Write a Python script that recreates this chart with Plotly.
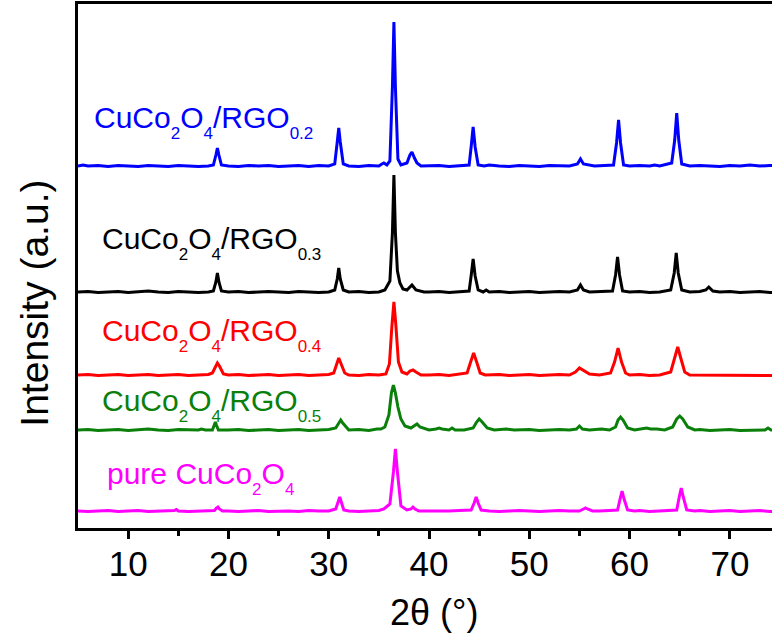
import plotly.graph_objects as go

# ---- data (2theta in degrees, intensity in a.u. above each pattern's baseline) ----
blue_x = [5.0, 5.5, 6, 7, 8, 9, 10, 11, 12, 13, 14, 15, 16, 17, 18, 18.5, 18.75, 18.9, 19.05, 19.3,
          20, 21, 22, 23, 24, 25, 26, 27, 28, 29, 30, 30.6, 30.85, 31.0, 31.15, 31.45, 32, 33, 34, 35,
          35.3, 35.5, 35.8, 36.1, 36.35, 36.5, 36.65, 36.9, 37.2, 37.8, 38.1, 38.3, 38.55, 38.8, 39.2,
          40, 41, 42, 43, 44, 44.2, 44.4, 44.6, 44.9, 45.5, 46, 47, 48, 49, 50, 51, 52, 53, 54, 54.8,
          55.1, 55.4, 55.8, 56.5, 57.5, 58.4, 58.7, 58.9, 59.1, 59.4, 60, 61, 62, 62.5, 63, 63.5, 64.2,
          64.5, 64.7, 64.9, 65.2, 66, 67, 68, 69, 70, 71, 72, 73, 74, 75]
blue_y = [1, 2, 1, 1.5, 0.5, 1.5, 1, 0.5, 1.5, 1, 0.5, 1.5, 1, 0.5, 1, 2, 12, 19, 12, 2,
          1, 0.5, 1.5, 1, 1.5, 0.5, 1, 1.5, 0.5, 1.5, 1, 3, 25, 39, 25, 3, 1, 0.5, 1.5, 1,
          3, 4, 2, 6, 80, 145, 80, 8, 2, 4, 12, 15, 9, 4, 1,
          1, 1.5, 0.5, 1.5, 2, 20, 40, 20, 2, 1, 2, 1, 0.5, 1.5, 1, 0.5, 1.5, 1, 1, 3,
          8, 3, 2, 1, 1.5, 2, 24, 47, 24, 2, 1, 1.5, 1, 2, 1, 2, 4,
          27, 54, 27, 3, 1, 1.5, 1, 0.5, 1.5, 1, 2, 1, 1.5, 1]

black_x = [5.0, 6, 7, 8, 9, 10, 11, 12, 13, 14, 15, 16, 17, 18, 18.5, 18.75, 18.9, 19.05, 19.3,
           20, 21, 22, 23, 24, 25, 26, 27, 28, 29, 30, 30.6, 30.85, 31.0, 31.15, 31.45, 32, 33, 34,
           35, 35.6, 36.1, 36.35, 36.5, 36.65, 36.85, 37.1, 37.4, 37.8, 38.3, 38.7, 39.5, 40, 41, 42,
           43, 44, 44.2, 44.4, 44.6, 44.9, 45.4, 45.7, 46, 47, 48, 49, 50, 51, 52, 53, 54, 54.8, 55.1,
           55.4, 56, 57, 58.3, 58.6, 58.8, 59.0, 59.3, 60, 61, 62, 63, 64.1, 64.45, 64.65, 64.85,
           65.2, 66, 67, 67.6, 67.9, 68.3, 69, 70, 71, 72, 73, 74, 75]
black_y = [1, 1.5, 0.5, 1, 1.5, 0.5, 1, 2, 1, 0.5, 1.5, 1, 0.5, 1, 2, 11, 20, 11, 2,
           1, 1.5, 0.5, 1, 1.5, 1, 0.5, 1.5, 1, 0.5, 1, 3, 14, 25, 14, 3, 1, 1.5, 0.5,
           1, 3, 12, 60, 118, 60, 22, 10, 4, 3, 8, 3, 1, 1, 1.5, 0.5,
           1, 2, 17, 34, 17, 3, 1, 3, 1, 1.5, 0.5, 1, 1.5, 0.5, 1, 1.5, 1, 3, 8,
           3, 1, 1.5, 2, 18, 36, 18, 2, 1, 1.5, 0.5, 1, 3, 20, 40, 20,
           3, 1, 1.5, 3, 6, 2, 1, 1.5, 0.5, 1, 1.5, 0.5, 1]

red_x = [5.0, 6, 7, 8, 9, 10, 11, 12, 13, 14, 15, 16, 17, 18, 18.4, 18.7, 18.9, 19.1, 19.5,
         20, 21, 22, 23, 24, 25, 26, 27, 28, 29, 30, 30.5, 30.8, 31.0, 31.2, 31.6, 32, 33, 34, 35,
         35.7, 36.05, 36.3, 36.5, 36.7, 36.95, 37.3, 37.8, 38.1, 38.4, 38.7, 39.2, 40, 41, 42, 43,
         43.8, 44.15, 44.45, 44.75, 45.1, 45.6, 46, 47, 48, 49, 50, 51, 52, 53, 54, 54.6, 55.0, 55.5,
         56, 57, 58.1, 58.5, 58.85, 59.2, 59.6, 60, 61, 62, 63, 64.1, 64.5, 64.8, 65.1, 65.5, 66,
         66.7, 67, 75]
red_y = [1, 1.5, 0.5, 1, 1.5, 0.5, 1, 1.5, 0.5, 1, 1.5, 0.5, 1, 1.5, 3, 10, 13, 10, 2,
         1, 1.5, 0.5, 1, 1.5, 0.5, 1, 1.5, 0.5, 1, 1.5, 3, 13, 18, 13, 3, 1, 0.5, 1.5, 1,
         2, 12, 50, 74, 50, 14, 4, 2, 5, 6, 4, 1, 1, 1.5, 0.5, 2,
         3, 14, 23, 14, 3, 1, 1, 1.5, 0.5, 1, 1.5, 0.5, 1, 1.5, 1, 4, 8, 5,
         2, 1, 3, 14, 28, 14, 3, 1, 1.5, 0.5, 1, 4, 18, 29, 18, 4, 1,
         1, 0.5, 0.5]

green_x = [5.0, 6, 7, 8, 9, 10, 11, 12, 13, 14, 15, 16, 17, 17.3, 17.7, 18.4, 18.6, 18.7, 18.8,
           19.0, 20, 21, 22, 23, 24, 25, 26, 27, 28, 29, 30, 30.7, 31.0, 31.2, 31.4, 31.8, 32, 33, 34,
           34.8, 35.2, 35.6, 36.0, 36.25, 36.45, 36.65, 36.9, 37.2, 37.6, 38.2, 38.5, 38.8, 39.1, 40,
           40.7, 41.0, 41.3, 42.0, 42.3, 42.6, 43.5, 44.4, 44.75, 45.0, 45.3, 45.8, 46.5, 47.7, 48.5,
           49, 50, 51, 52, 53, 54, 54.7, 55.0, 55.3, 56, 57.2, 58, 58.6, 58.85, 59.1, 59.35, 59.8,
           60.5, 61.3, 61.7, 62.1, 62.7, 63.5, 64.3, 64.7, 65.0, 65.3, 65.8, 66.5, 67, 68, 69, 70,
           71, 72, 73, 73.5, 73.8, 74.1, 75]
green_y = [1, 1.5, 0.5, 1, 1.5, 0.5, 1, 2, 1, 0.5, 1.5, 1, 1, 2, 1, 1, 6, 9, 6,
           1, 1, 1.5, 0.5, 1, 1.5, 0.5, 1, 1.5, 0.5, 1, 1.5, 3, 8, 11, 8, 3, 1, 1.5, 0.5,
           2, 2, 4, 16, 38, 46, 38, 24, 12, 5, 3, 5, 7, 4, 1,
           2, 3, 2, 1, 3, 1, 1, 3, 9, 12, 9, 3, 1, 2, 1,
           1, 1.5, 0.5, 1, 1.5, 1, 2, 5, 2, 1, 2, 1, 4, 11, 14, 11, 3,
           1, 2, 3, 2, 2, 1, 4, 12, 15, 12, 4, 1, 1.5, 0.5, 1, 1.5,
           0.5, 1, 1.5, 1, 3, 1, 1]

magenta_x = [5.0, 6, 7, 8, 9, 10, 11, 12, 13, 14, 14.6, 14.8, 15.0, 16, 17, 18, 18.6, 18.8, 18.95,
             19.1, 19.4, 20, 21, 22, 23, 24, 25, 26, 27, 28, 29, 30, 30.7, 30.95, 31.1, 31.25, 31.5,
             32, 33, 34, 35, 35.5, 36.1, 36.45, 36.65, 36.85, 37.2, 37.8, 38.2, 38.4, 38.6, 39.0, 40,
             41, 42, 43, 44.2, 44.5, 44.7, 44.9, 45.2, 46, 47, 48, 49, 50, 51, 52, 53, 54, 55, 55.4,
             55.6, 55.8, 56.3, 57, 58, 58.8, 59.05, 59.25, 59.45, 59.8, 60.5, 61, 62, 63, 64, 64.7,
             64.95, 65.15, 65.35, 65.7, 66.5, 67, 68, 69, 70, 71, 72, 73, 74, 75]
magenta_y = [1, 0.5, 1, 1.5, 0.5, 1, 1.5, 0.5, 1, 1, 1.5, 2.5, 1, 0.5, 1, 1.5, 1.5, 4, 5,
             3, 1, 1, 0.5, 1, 1.5, 0.5, 1, 1, 0.5, 1.5, 1, 1, 3, 10, 15, 10, 2,
             1, 0.5, 1, 1.5, 3, 8, 40, 63, 40, 6, 2, 3, 5, 3, 1, 1,
             0.5, 1, 1.5, 2, 9, 15, 9, 2, 1, 0.5, 1, 1.5, 1, 0.5, 1, 1.5, 1, 1, 3,
             4, 3, 1, 1, 1.5, 2, 13, 21, 13, 2, 1, 1.5, 0.5, 1, 1.5, 2,
             15, 24, 15, 2, 1, 1.5, 0.5, 1, 1.5, 0.5, 1, 1.5, 0.5, 1]

SUB = '<span style="font-size:17px;baseline-shift:-11px">{}</span>'
series_names = ["CuCo" + SUB.format("2") + "O" + SUB.format("4") + "/RGO" + SUB.format("0.2"),
                "CuCo" + SUB.format("2") + "O" + SUB.format("4") + "/RGO" + SUB.format("0.3"),
                "CuCo" + SUB.format("2") + "O" + SUB.format("4") + "/RGO" + SUB.format("0.4"),
                "CuCo" + SUB.format("2") + "O" + SUB.format("4") + "/RGO" + SUB.format("0.5"),
                "pure CuCo" + SUB.format("2") + "O" + SUB.format("4")]
series_x = [blue_x, black_x, red_x, green_x, magenta_x]
series_y = [blue_y, black_y, red_y, green_y, magenta_y]
offsets = [361, 235, 152, 97, 16]          # vertical stacking offsets (a.u.)
colors = ["#0000FF", "#000000", "#FF0000", "#0A800A", "#FF00FF"]
label_x = [6.4, 7.2, 7.2, 7.2, 7.7]        # 2theta where each label starts
label_y = [406, 285, 193, 123, 50]         # label centre height (a.u.)

FONT = "Liberation Sans, Arial, sans-serif"

fig = go.Figure()
for xs, ys, off, col in zip(series_x, series_y, offsets, colors):
    fig.add_trace(go.Scatter(x=xs, y=[v + off for v in ys], mode="lines",
                             line=dict(color=col, width=3), showlegend=False,
                             hoverinfo="skip"))

annotations = []
for name, lx, ly, col in zip(series_names, label_x, label_y, colors):
    annotations.append(dict(text=name, x=lx, y=ly, xref="x", yref="y",
                            xanchor="left", yanchor="middle", showarrow=False,
                            font=dict(family=FONT, size=30, color=col)))
annotations.append(dict(text="Intensity (a.u.)", x=-0.062, y=0.43, xref="paper", yref="paper",
                        textangle=-90, showarrow=False, xanchor="center", yanchor="middle",
                        font=dict(family=FONT, size=39, color="#000")))
annotations.append(dict(text="2θ (°)", x=0.513, y=-0.162, xref="paper", yref="paper",
                        showarrow=False, xanchor="center", yanchor="middle",
                        font=dict(family=FONT, size=36, color="#000")))

fig.update_layout(
    width=772, height=639,
    margin=dict(l=78, r=0, t=4, b=111),
    paper_bgcolor="white", plot_bgcolor="white",
    annotations=annotations,
    xaxis=dict(range=[5, 74.2], tickmode="array", tickvals=[10, 20, 30, 40, 50, 60, 70],
               ticks="outside", ticklen=8, tickwidth=2.5, tickcolor="#000",
               ticklabelstandoff=-5,
               minor=dict(tickmode="array", tickvals=[15, 25, 35, 45, 55, 65],
                          ticks="outside", ticklen=5, tickwidth=2.5, tickcolor="#000"),
               showline=True, linecolor="#000", linewidth=3, mirror=True,
               showgrid=False, zeroline=False,
               tickfont=dict(family=FONT, size=35, color="#000")),
    yaxis=dict(range=[0, 524], showticklabels=False, ticks="",
               showline=True, linecolor="#000", linewidth=3, mirror=False,
               showgrid=False, zeroline=False),
)

fig.write_html("out.html")
